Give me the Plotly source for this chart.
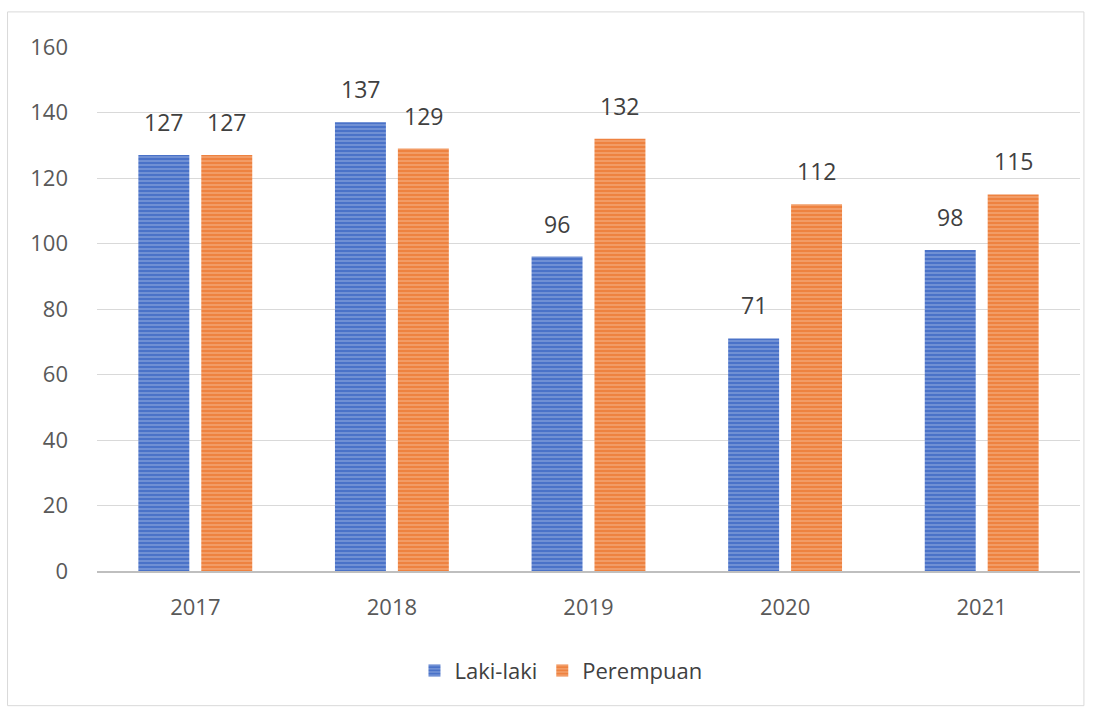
import plotly.graph_objects as go

years = ["2017", "2018", "2019", "2020", "2021"]
laki_laki = [127, 137, 96, 71, 98]
perempuan = [127, 129, 132, 112, 115]

FONT = "Open Sans"
BARGAP = 0.36
BARGROUPGAP = 0.19

fig = go.Figure()
fig.add_trace(go.Bar(
    x=years, y=laki_laki, name="Laki-laki",
    marker=dict(color="#4A72C8", line=dict(width=0),
                pattern=dict(shape="-", fgcolor="#9DB4E4", size=4, solidity=0.45)),
))
fig.add_trace(go.Bar(
    x=years, y=perempuan, name="Perempuan",
    marker=dict(color="#EE8240", line=dict(width=0),
                pattern=dict(shape="-", fgcolor="#F7BC94", size=4, solidity=0.45)),
))

# value labels above each bar, offset to the centre of each grouped bar
slot = (1 - BARGAP) / 2
annotations = []
for series, shift in ((laki_laki, -slot / 2), (perempuan, slot / 2)):
    for i, v in enumerate(series):
        annotations.append(dict(
            x=i + shift, y=v, xref="x", yref="y", text=str(v),
            showarrow=False, yanchor="bottom", yshift=15,
            font=dict(family=FONT, size=23, color="#404040"),
        ))

fig.update_layout(
    width=1099, height=711,
    margin=dict(l=97, r=19, t=47, b=140),
    paper_bgcolor="white", plot_bgcolor="white",
    barmode="group", bargap=BARGAP, bargroupgap=BARGROUPGAP,
    font=dict(family=FONT, color="#595959", size=20),
    showlegend=True,
    legend=dict(orientation="h", x=0.472, xanchor="center", y=-0.15, yanchor="top",
                font=dict(family=FONT, size=22, color="#404040"),
                itemwidth=30, traceorder="normal"),
    annotations=annotations,
    shapes=[dict(type="rect", xref="paper", yref="paper",
                 x0=-0.091, x1=1.004, y0=-0.257, y1=1.067,
                 line=dict(color="#D9D9D9", width=1))],
)
fig.update_xaxes(showgrid=False, showline=True, linecolor="#BFBFBF", linewidth=2,
                 ticks="", ticklabelstandoff=16,
                 tickfont=dict(family=FONT, size=22, color="#595959"))
fig.update_yaxes(range=[0, 160], dtick=20, showgrid=True, gridcolor="#D9D9D9",
                 gridwidth=1, zeroline=False, showline=False, ticks="",
                 ticklabelstandoff=28,
                 tickfont=dict(family=FONT, size=22, color="#595959"))

fig.write_html("out.html")
